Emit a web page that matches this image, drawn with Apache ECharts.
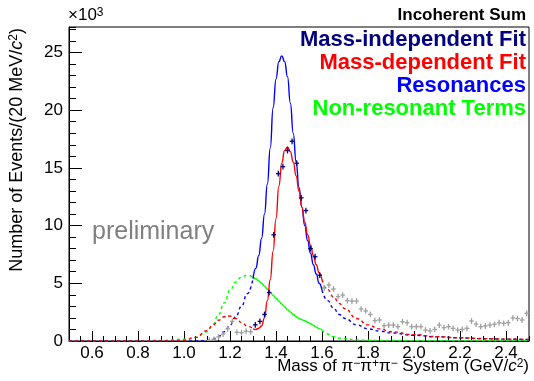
<!DOCTYPE html>
<html>
<head>
<meta charset="utf-8">
<script src="https://cdn.jsdelivr.net/npm/echarts@6/dist/echarts.min.js"></script>
<style>
html,body{margin:0;padding:0;background:#fff;}
#c{width:534px;height:381px;}
</style>
</head>
<body>
<div id="c"></div>
<script>
// ---- data (events in units of 10^3 per 20 MeV/c^2) ----
const fitMass = [1.31,1.33,1.35,1.37,1.39,1.41,1.43,1.45,1.47,1.49,1.51,1.53,1.55,1.57,1.59];
const fitEvents = [1.4,1.7,2.3,4.2,9.2,14.5,15.1,16.5,17.3,15.4,12.4,11.3,8.0,7.3,5.7];

const lowMass = [1.11,1.13,1.15,1.17,1.19,1.21,1.23,1.25,1.27,1.29];
const lowEvents = [0.05,0.15,0.35,0.6,1.05,1.7,0.75,0.72,0.85,0.8];

const highMass = [1.61,1.63,1.65,1.67,1.69,1.71,1.73,1.75,1.77,1.79,1.81,1.83,1.85,1.87,1.89,1.91,1.93,1.95,1.97,1.99,
                  2.01,2.03,2.05,2.07,2.09,2.11,2.13,2.15,2.17,2.19,2.21,2.23,2.25,2.27,2.29,2.31,2.33,2.35,2.37,2.39,2.41,2.43,2.45,2.47,2.49];
const highEvents = [4.6,4.85,4.5,3.85,3.98,3.5,3.46,3.46,2.77,2.6,2.3,1.76,1.82,1.32,1.38,1.38,1.24,1.67,1.58,1.24,
                    1.24,1.24,0.95,0.87,1.0,1.38,1.15,1.24,1.1,0.95,1.0,1.1,1.73,1.47,1.24,1.3,1.38,1.45,1.58,1.53,1.58,2.0,1.95,1.82,2.4];

const curveMass = [0.5,0.6,0.7,0.8,0.9,1.0,1.05,1.1,1.125,1.15,1.175,1.2,1.225,1.25,1.275,1.3,
  1.3125,1.325,1.3375,1.35,1.3625,1.375,1.3875,1.4,1.4125,1.425,1.4375,1.45,1.4625,1.475,1.4875,1.5,1.5125,1.525,1.5375,1.55,1.5625,1.575,1.5875,1.6,
  1.625,1.65,1.675,1.7,1.75,1.8,1.85,1.9,2.0,2.1,2.2,2.3,2.4,2.5];
const massDependentFit = [0,0,0,0,0.01,0.05,0.3,0.9,1.35,1.8,2.1,2.16,1.95,1.6,1.3,1.05,
  1.0,1.1,1.3,2.0,3.5,5.3,7.8,10.6,13.4,15.4,16.5,16.8,16.4,15.5,14.3,13.0,11.6,10.3,9.2,8.3,7.4,6.6,5.9,5.3,
  4.45,3.8,3.25,2.8,1.95,1.4,1.05,0.8,0.55,0.38,0.28,0.21,0.16,0.13];
const resonances = [0,0,0,0,0,0,0,0.03,0.15,0.4,0.8,1.38,2.1,3.0,4.1,5.4,
  6.3,7.4,8.9,11.0,13.6,16.7,20.2,22.7,24.2,24.7,24.2,22.9,20.6,18.0,15.5,13.3,11.6,10.0,8.7,7.6,6.6,5.8,5.0,4.4,
  3.5,2.85,2.3,1.95,1.4,1.05,0.85,0.7,0.5,0.36,0.27,0.2,0.16,0.13];
const nonResonant = [0,0,0,0.02,0.05,0.15,0.3,0.8,1.4,2.3,3.3,4.4,5.1,5.55,5.7,5.55,
  5.4,5.2,5.0,4.75,4.5,4.2,3.95,3.7,3.45,3.2,2.95,2.7,2.5,2.3,2.1,1.95,1.85,1.75,1.62,1.5,1.35,1.2,1.07,0.95,
  0.6,0.37,0.25,0.18,0.1,0.07,0.05,0.04,0.03,0.03,0.03,0.03,0.03,0.03];

const fitRange = [1.3, 1.6];
const xTickLabels = [0.6,0.8,1.0,1.2,1.4,1.6,1.8,2.0,2.2,2.4];

// ---- helpers ----
const pairs = (xs, ys) => xs.map((x, i) => [x, ys[i]]);
const inside = (xs, ys) => pairs(xs, ys).filter(p => p[0] >= fitRange[0] - 1e-9 && p[0] <= fitRange[1] + 1e-9);
const below = (xs, ys) => pairs(xs, ys).filter(p => p[0] <= fitRange[0] + 1e-9);
const above = (xs, ys) => pairs(xs, ys).filter(p => p[0] >= fitRange[1] - 1e-9);

const HALF_BIN = 0.01, ERR = 0.25;
function crossSeries(name, data, color, z) {
  return {
    name, type: 'custom', z,
    clip: true,
    data,
    renderItem(params, api) {
      const x = api.value(0), y = api.value(1);
      const c = api.coord([x, y]);
      const l = api.coord([x - HALF_BIN, y]);
      const r = api.coord([x + HALF_BIN, y]);
      const t = api.coord([x, y + ERR]);
      const b = api.coord([x, y - ERR]);
      const st = { stroke: color, lineWidth: 1.3 };
      return { type: 'group', children: [
        { type: 'line', shape: { x1: l[0], y1: c[1], x2: r[0], y2: c[1] }, style: st },
        { type: 'line', shape: { x1: c[0], y1: t[1], x2: c[0], y2: b[1] }, style: st }
      ]};
    }
  };
}
function lineSeries(data, color, dashed, z) {
  return {
    type: 'line', data, showSymbol: false, smooth: 0.5, smoothMonotone: 'x', z,
    lineStyle: { color, width: 1.4, type: dashed ? [3, 3] : 'solid' },
    emphasis: { disabled: true }, silent: true, clip: true
  };
}

const NAVY = '#000080', RED = '#ff0000', BLUE = '#0000ff', GREEN = '#00ff00', GRAY = '#a0a0a0';
const FONT = '"Liberation Sans", Arial, Helvetica, sans-serif';

const chart = echarts.init(document.getElementById('c'), null, { renderer: 'canvas' });
chart.setOption({
  animation: false,
  backgroundColor: '#fff',
  grid: { left: 69, right: 5, top: 27, bottom: 40, show: true, borderColor: '#000', borderWidth: 1, backgroundColor: 'transparent' },
  xAxis: [{
    type: 'value', min: 0.5, max: 2.5, position: 'bottom',
    axisLine: { show: true, onZero: false, lineStyle: { color: '#000', width: 1 } },
    axisTick: { show: true, inside: true, length: 10, customValues: xTickLabels, lineStyle: { color: '#000' } },
    axisLabel: { customValues: xTickLabels, margin: 4, color: '#000', fontFamily: FONT, fontSize: 17,
                 formatter: v => v.toFixed(1) },
    splitLine: { show: false }
  }, {
    type: 'value', min: 0.5, max: 2.5, interval: 0.05, position: 'bottom',
    axisLine: { show: false },
    axisTick: { show: true, inside: true, length: 5, lineStyle: { color: '#000' } },
    axisLabel: { show: false }, splitLine: { show: false }
  }],
  yAxis: [{
    type: 'value', min: 0, max: 27.2, interval: 5, position: 'left',
    axisLine: { show: true, onZero: false, lineStyle: { color: '#000' } },
    axisTick: { show: true, inside: true, length: 13, lineStyle: { color: '#000' } },
    axisLabel: { margin: 6, color: '#000', fontFamily: FONT, fontSize: 17, showMaxLabel: false },
    splitLine: { show: false }
  }, {
    type: 'value', min: 0, max: 27.2, interval: 1, position: 'left',
    axisLine: { show: false },
    axisTick: { show: true, inside: true, length: 7, lineStyle: { color: '#000' } },
    axisLabel: { show: false }, splitLine: { show: false }
  }],
  series: [
    lineSeries(below(curveMass, nonResonant), GREEN, true, 2),
    lineSeries(inside(curveMass, nonResonant), GREEN, false, 2),
    lineSeries(above(curveMass, nonResonant), GREEN, true, 2),
    lineSeries(below(curveMass, resonances), BLUE, true, 3),
    lineSeries(inside(curveMass, resonances), BLUE, false, 3),
    lineSeries(above(curveMass, resonances), BLUE, true, 3),
    lineSeries(below(curveMass, massDependentFit), RED, true, 4),
    lineSeries(inside(curveMass, massDependentFit), RED, false, 4),
    lineSeries(above(curveMass, massDependentFit), RED, true, 4),
    crossSeries('low', pairs(lowMass, lowEvents), GRAY, 5),
    crossSeries('high', pairs(highMass, highEvents), GRAY, 5),
    crossSeries('fit', pairs(fitMass, fitEvents), NAVY, 6)
  ],
  graphic: [
    { type: 'text', left: 68, top: 7, z: 10,
      style: { text: '{a|×10}{s|3}', rich: { a: { fontFamily: FONT, fontSize: 17, fill: '#000', verticalAlign: 'bottom' }, s: { fontFamily: FONT, fontSize: 12, fill: '#000', verticalAlign: 'top' } } } },
    { type: 'text', right: 8, top: 7, z: 10,
      style: { text: 'Incoherent Sum', fontFamily: FONT, fontWeight: 'bold', fontSize: 17, fill: '#000' } },
    { type: 'text', right: 8, top: 29, z: 10,
      style: { text: 'Mass-independent Fit', fontFamily: FONT, fontWeight: 'bold', fontSize: 22, fill: NAVY } },
    { type: 'text', right: 8, top: 52, z: 10,
      style: { text: 'Mass-dependent Fit', fontFamily: FONT, fontWeight: 'bold', fontSize: 22, fill: RED } },
    { type: 'text', right: 8, top: 75, z: 10,
      style: { text: 'Resonances', fontFamily: FONT, fontWeight: 'bold', fontSize: 22, fill: BLUE } },
    { type: 'text', right: 8, top: 98, z: 10,
      style: { text: 'Non-resonant Terms', fontFamily: FONT, fontWeight: 'bold', fontSize: 22, fill: GREEN } },
    { type: 'text', left: 92, top: 220, z: 10,
      style: { text: 'preliminary', fontFamily: FONT, fontSize: 25, fill: '#808080' } },
    { type: 'text', right: 5, top: 358, z: 10,
      style: { text: '{a|Mass of π}{s|−}{a|π}{s|+}{a|π}{s|−}{a| System (GeV/}{i|c}{s|2}{a|)}',
        rich: { a: { fontFamily: FONT, fontSize: 17, fill: '#000', verticalAlign: 'bottom' },
                i: { fontFamily: FONT, fontSize: 17, fontStyle: 'italic', fill: '#000', verticalAlign: 'bottom' },
                s: { fontFamily: FONT, fontSize: 12, fill: '#000', verticalAlign: 'top' } } } },
    { type: 'text', x: 17, y: 28, rotation: Math.PI / 2, z: 10,
      style: { text: '{a|Number of Events/(20 MeV/}{i|c}{s|2}{a|)}', align: 'right', verticalAlign: 'middle',
        rich: { a: { fontFamily: FONT, fontSize: 18, fill: '#000', verticalAlign: 'bottom' },
                i: { fontFamily: FONT, fontSize: 18, fontStyle: 'italic', fill: '#000', verticalAlign: 'bottom' },
                s: { fontFamily: FONT, fontSize: 12, fill: '#000', verticalAlign: 'top' } } } }
  ]
});
</script>
</body>
</html>
